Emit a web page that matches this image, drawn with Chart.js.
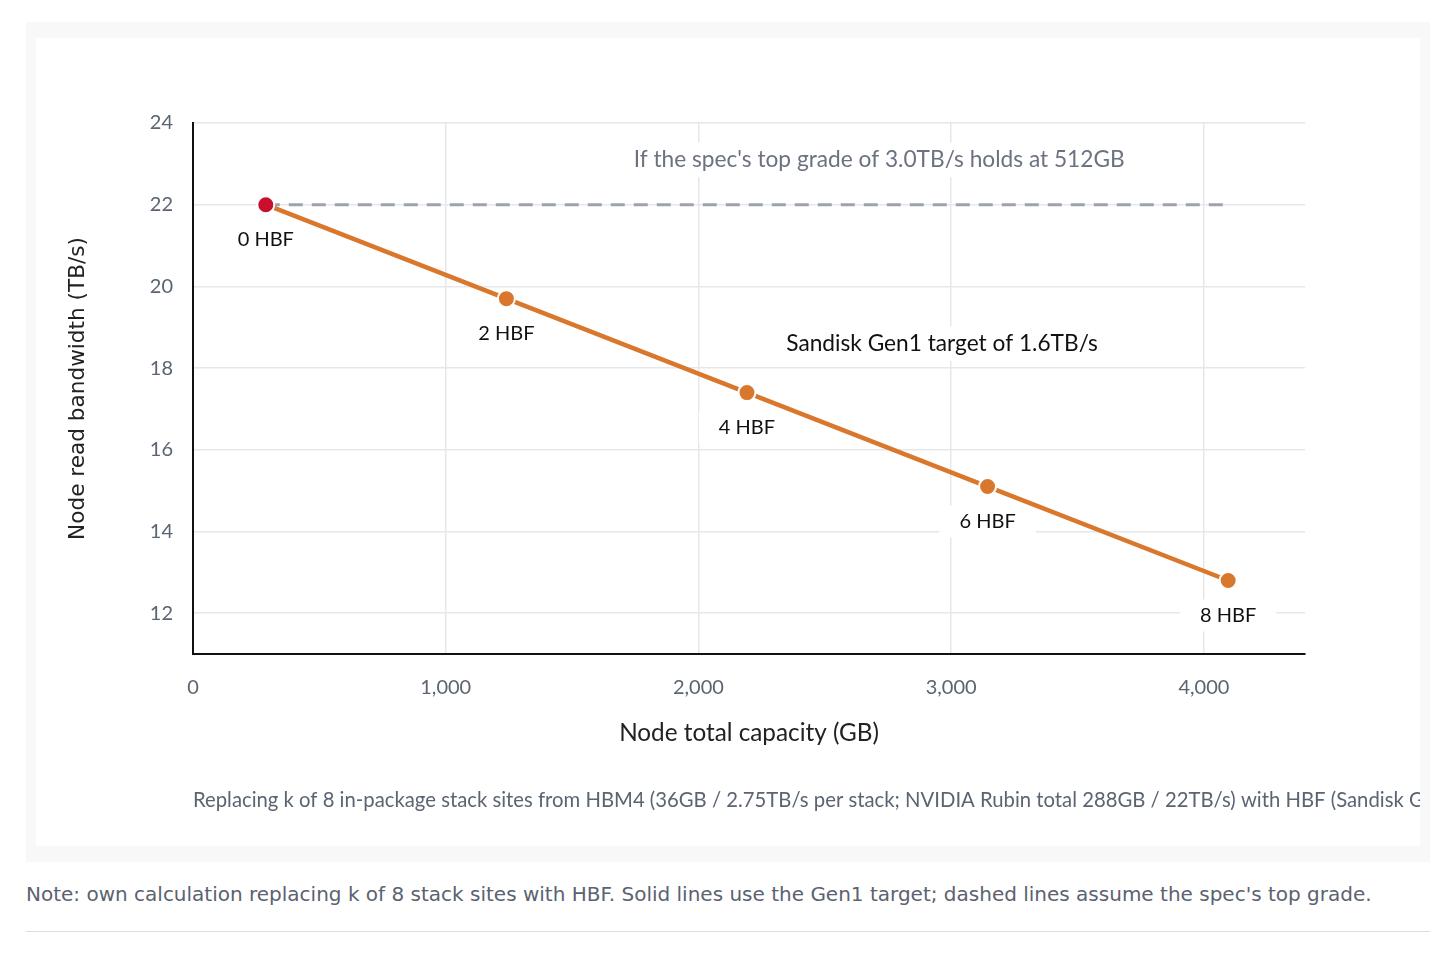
<!DOCTYPE html>
<html>
<head>
<meta charset="utf-8">
<script src="https://cdn.jsdelivr.net/npm/chart.js@4.4.1/dist/chart.umd.min.js"></script>
<style>
  html, body { margin: 0; padding: 0; background: #fff; }
  .outer {
    position: absolute; left: 26px; top: 22px;
    width: 1404px; height: 840px; background: #f8f8f8;
  }
  .inner {
    position: absolute; left: 10px; top: 16px;
    width: 1384px; height: 808px; background: #fff; overflow: hidden;
  }
  .note {
    position: absolute; left: 26px; top: 882px;
    font-family: "DejaVu Sans", sans-serif; font-size: 20px; color: #5b6270;
    white-space: nowrap;
  }
  .rule {
    position: absolute; left: 26px; top: 931px; width: 1404px; height: 1px; background: #dcdde0;
  }
</style>
</head>
<body>
<div class="outer">
  <div class="inner"><canvas id="chart" width="1384" height="808"></canvas></div>
</div>
<div class="note">Note: own calculation replacing k of 8 stack sites with HBF. Solid lines use the Gen1 target; dashed lines assume the spec's top grade.</div>
<div class="rule"></div>
<script>
// values
const hbfLabels = ['0 HBF', '2 HBF', '4 HBF', '6 HBF', '8 HBF'];
const capacityGB = [288, 1240, 2192, 3144, 4096];
const bandwidthTBs = [22, 19.7, 17.4, 15.1, 12.8];

const topGradeX = [288, 4096];
const topGradeY = [22, 22];

const xTicks = [0, 1000, 2000, 3000, 4000];
const yTicks = [12, 14, 16, 18, 20, 22, 24];

const noteTexts = ["If the spec's top grade of 3.0TB/s holds at 512GB", 'Sandisk Gen1 target of 1.6TB/s'];
const noteX = [2715, 2964];
const noteY = [23.1, 18.6];
const noteColors = ['#6b7280', '#111111'];

const caption = 'Replacing k of 8 in-package stack sites from HBM4 (36GB / 2.75TB/s per stack; NVIDIA Rubin total 288GB / 22TB/s) with HBF (Sandisk Gen1 512GB / 1.6TB/s per stack)';

const FONT = 'Lato, "Noto Sans", sans-serif';
const ORANGE = '#d9782d';
const RED = '#c8102e';

// white-backed text, used for point labels and notes
function boxedText(ctx, text, x, y, color, size) {
    ctx.font = size + 'px ' + FONT;
    const w = ctx.measureText(text).width;
    ctx.fillStyle = '#fff';
    ctx.fillRect(x - w / 2 - 20, y - size / 2 - 6, w + 40, size + 12);
    ctx.fillStyle = color;
    ctx.textAlign = 'center';
    ctx.textBaseline = 'middle';
    ctx.fillText(text, x, y);
}

const labelsPlugin = {
    id: 'labels',
    beforeDatasetsDraw(chart) {
        const { ctx, scales: { x, y } } = chart;
        ctx.save();
        const meta = chart.getDatasetMeta(1);
        meta.data.forEach((pt, i) => {
            boxedText(ctx, hbfLabels[i], pt.x, pt.y + 35, '#111', 20);
        });
        noteTexts.forEach((t, i) => {
            boxedText(ctx, t, x.getPixelForValue(noteX[i]), y.getPixelForValue(noteY[i]), noteColors[i], 22.7);
        });
        ctx.restore();
    },
    afterDraw(chart) {
        const { ctx, chartArea } = chart;
        ctx.save();
        ctx.font = '20.3px ' + FONT;
        ctx.fillStyle = '#5b6472';
        ctx.textAlign = 'left';
        ctx.textBaseline = 'middle';
        ctx.fillText(caption, chartArea.left, 762);
        ctx.restore();
    }
};

new Chart(document.getElementById('chart'), {
    type: 'scatter',
    data: {
        datasets: [
            {
                label: 'Top grade',
                data: topGradeX.map((v, i) => ({ x: v, y: topGradeY[i] })),
                showLine: true,
                borderColor: '#9ca3af',
                borderWidth: 3,
                borderDash: [14, 9],
                pointRadius: 0,
                order: 2,
            },
            {
                label: 'Gen1 target',
                data: capacityGB.map((v, i) => ({ x: v, y: bandwidthTBs[i] })),
                showLine: true,
                borderColor: ORANGE,
                borderWidth: 4.5,
                pointRadius: 8.5,
                pointHoverRadius: 8.5,
                pointBackgroundColor: capacityGB.map((v, i) => i === 0 ? RED : ORANGE),
                pointBorderColor: '#fff',
                pointBorderWidth: 2,
                order: 1,
            }
        ]
    },
    options: {
        responsive: false,
        animation: false,
        events: [],
        layout: { padding: { left: 0, right: 115, top: 85, bottom: 0 } },
        plugins: {
            legend: { display: false },
            tooltip: { enabled: false },
        },
        scales: {
            x: {
                type: 'linear',
                min: 0,
                max: 4400,
                afterFit: s => { s.height = 192; },
                afterBuildTicks: s => { s.ticks = xTicks.map(v => ({ value: v })); },
                border: { color: '#111', width: 2 },
                grid: { color: '#e5e7eb', lineWidth: 1.5, drawTicks: false },
                ticks: {
                    padding: 22,
                    color: '#5b6472',
                    font: { family: FONT, size: 20 },
                    callback: v => v.toLocaleString('en-US'),
                },
                title: {
                    display: true,
                    text: 'Node total capacity (GB)',
                    color: '#222',
                    font: { family: FONT, size: 24.3 },
                    padding: { top: 0, bottom: 98 },
                },
            },
            y: {
                type: 'linear',
                min: 11,
                max: 24,
                afterFit: s => { s.width = 157; },
                afterBuildTicks: s => { s.ticks = yTicks.map(v => ({ value: v })); },
                border: { color: '#111', width: 2 },
                grid: { color: '#e5e7eb', lineWidth: 1.5, drawTicks: false },
                ticks: {
                    padding: 20,
                    color: '#5b6472',
                    font: { family: FONT, size: 20 },
                },
                title: {
                    display: true,
                    text: 'Node read bandwidth (TB/s)',
                    color: '#222',
                    font: { family: '"DejaVu Sans", sans-serif', size: 21.6 },
                    padding: { top: 29, bottom: 0 },
                },
            }
        }
    },
    plugins: [labelsPlugin]
});
</script>
</body>
</html>
